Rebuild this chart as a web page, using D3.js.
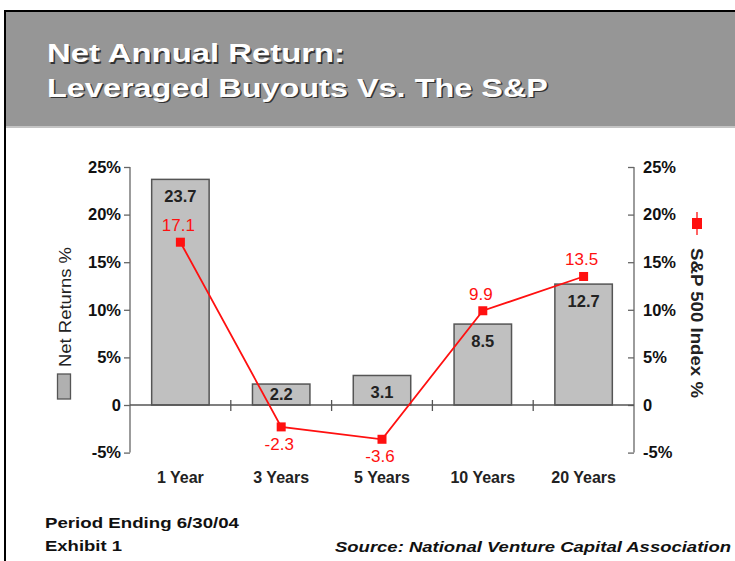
<!DOCTYPE html>
<html><head><meta charset="utf-8">
<script src="https://cdn.jsdelivr.net/npm/d3@7"></script>
<style>body{margin:0;background:#fff}svg{display:block}</style>
</head><body>
<svg id="c" width="735" height="561"></svg>
<script>
const categories = ["1 Year","3 Years","5 Years","10 Years","20 Years"];
const lboReturns = [23.7, 2.2, 3.1, 8.5, 12.7];
const spReturns = [17.1, -2.3, -3.6, 9.9, 13.5];
const yTicks = [-5, 0, 5, 10, 15, 20, 25];
const titleLines = ["Net Annual Return:", "Leveraged Buyouts Vs. The S&P"];

const svg = d3.select("#c");
const F = "Arial, 'Liberation Sans', sans-serif";

// frame + header
svg.append("rect").attr("x",6).attr("y",12).attr("width",729).attr("height",114).attr("fill","#969696");
svg.append("rect").attr("x",6).attr("y",126).attr("width",729).attr("height",2).attr("fill","#c4c4c4");
svg.append("line").attr("x1",5).attr("x2",735).attr("y1",11).attr("y2",11).attr("stroke","#000").attr("stroke-width",2);
svg.append("line").attr("x1",5).attr("x2",5).attr("y1",10).attr("y2",561).attr("stroke","#000").attr("stroke-width",2);

const titleW = [298, 501];
titleLines.forEach((t,i)=>{
  const y = 62 + i*34.5;
  svg.append("text").attr("x",48.5).attr("y",y+1.5).text(t)
    .attr("font-family",F).attr("font-weight","bold").attr("font-size",26.5)
    .attr("textLength",titleW[i]).attr("lengthAdjust","spacingAndGlyphs").attr("fill","#333");
  svg.append("text").attr("x",47).attr("y",y).text(t)
    .attr("font-family",F).attr("font-weight","bold").attr("font-size",26.5)
    .attr("textLength",titleW[i]).attr("lengthAdjust","spacingAndGlyphs").attr("fill","#fff");
});

// scales
const x = d3.scaleBand().domain(categories).range([130,634]).paddingInner(0.43).paddingOuter(0.215);
const xb = d3.scaleBand().domain(categories).range([130,634]);
const y = d3.scaleLinear().domain([-5,25]).range([452.6,167]);

// axes
const axisColor = "#666";
const gl = svg.append("g").attr("transform","translate(130,0)")
  .call(d3.axisLeft(y).tickValues(yTicks).tickSize(6).tickFormat(d=>d===0?"0":d+"%"));
const gr = svg.append("g").attr("transform","translate(634,0)")
  .call(d3.axisRight(y).tickValues(yTicks).tickSize(-6).tickFormat(d=>d===0?"0":d+"%"));
[gl,gr].forEach(g=>{
  g.select(".domain").attr("stroke",axisColor).attr("stroke-width",1.3).attr("d","M0,167V452.6");
  g.selectAll(".tick line").attr("stroke",axisColor).attr("stroke-width",1.3);
  g.selectAll(".tick text").attr("font-family",F).attr("font-weight","bold").attr("font-size",16.5).attr("fill","#111");
});
gl.selectAll(".tick text").attr("x",-9);
gr.selectAll(".tick text").attr("x",9);

// bars
svg.append("g").selectAll("rect").data(categories).join("rect")
  .attr("x",d=>x(d)).attr("width",x.bandwidth())
  .attr("y",(d,i)=>y(lboReturns[i])).attr("height",(d,i)=>y(0)-y(lboReturns[i]))
  .attr("fill","#c0c0c0").attr("stroke","#555").attr("stroke-width",1.5);

// zero line & category ticks
svg.append("line").attr("x1",130).attr("x2",634).attr("y1",y(0)).attr("y2",y(0)).attr("stroke","#555").attr("stroke-width",1.3);
svg.append("g").selectAll("line").data(categories.slice(1)).join("line")
  .attr("x1",d=>xb(d)).attr("x2",d=>xb(d)).attr("y1",y(0)-5).attr("y2",y(0)+6)
  .attr("stroke","#555").attr("stroke-width",1.3);

// bar labels
svg.append("g").selectAll("text").data(categories).join("text")
  .attr("x",d=>x(d)+x.bandwidth()/2).attr("y",(d,i)=>Math.min(y(lboReturns[i])+23, y(0)-5))
  .attr("text-anchor","middle").attr("font-family",F).attr("font-size",16.5).attr("font-weight","bold")
  .attr("fill","#222").text((d,i)=>lboReturns[i].toFixed(1));

// category labels
svg.append("g").selectAll("text").data(categories).join("text")
  .attr("x",d=>xb(d)+xb.bandwidth()/2).attr("y",483)
  .attr("text-anchor","middle").attr("font-family",F).attr("font-size",16).attr("font-weight","bold")
  .attr("fill","#222").text(d=>d);

// S&P line
const cx = d=>xb(d)+xb.bandwidth()/2;
const red = "#ff1010";
svg.append("path").datum(categories)
  .attr("d",d3.line().x(d=>cx(d)).y((d,i)=>y(spReturns[i])))
  .attr("fill","none").attr("stroke",red).attr("stroke-width",1.8);
svg.append("g").selectAll("rect").data(categories).join("rect")
  .attr("x",d=>cx(d)-4.5).attr("y",(d,i)=>y(spReturns[i])-4.5).attr("width",9).attr("height",9).attr("fill",red);
svg.append("g").selectAll("text").data(categories).join("text")
  .attr("x",d=>cx(d)-2).attr("y",(d,i)=>spReturns[i]<0? y(spReturns[i])+23 : y(spReturns[i])-11)
  .attr("text-anchor","middle").attr("font-family",F).attr("font-size",17)
  .attr("fill",red).text((d,i)=>spReturns[i].toFixed(1));

// left legend
svg.append("rect").attr("x",57.5).attr("y",374).attr("width",13).attr("height",25).attr("fill","#b0b0b0").attr("stroke","#555").attr("stroke-width",1.3);
svg.append("text").attr("transform","translate(71,367) rotate(-90)").attr("font-family",F).attr("font-size",16.5)
  .attr("fill","#222").attr("textLength",120).attr("lengthAdjust","spacingAndGlyphs").text("Net Returns %");

// right legend
svg.append("line").attr("x1",697).attr("x2",697).attr("y1",212).attr("y2",235).attr("stroke",red).attr("stroke-width",1.3);
svg.append("rect").attr("x",692).attr("y",218).attr("width",10).attr("height",11).attr("fill",red);
svg.append("text").attr("transform","translate(691,248) rotate(90)").attr("font-family",F).attr("font-size",16.5).attr("font-weight","bold")
  .attr("fill","#222").attr("textLength",150).attr("lengthAdjust","spacingAndGlyphs").text("S&P 500 Index %");

// footer
svg.append("text").attr("x",45).attr("y",528).attr("font-family",F).attr("font-size",15.5).attr("font-weight","bold")
  .attr("fill","#111").attr("textLength",194).attr("lengthAdjust","spacingAndGlyphs").text("Period Ending 6/30/04");
svg.append("text").attr("x",45).attr("y",551).attr("font-family",F).attr("font-size",15.5).attr("font-weight","bold")
  .attr("fill","#111").attr("textLength",77).attr("lengthAdjust","spacingAndGlyphs").text("Exhibit 1");
svg.append("text").attr("x",335).attr("y",552).attr("font-family",F).attr("font-size",15.5).attr("font-weight","bold").attr("font-style","italic")
  .attr("fill","#111").attr("textLength",396).attr("lengthAdjust","spacingAndGlyphs").text("Source: National Venture Capital Association");
</script>
</body></html>
